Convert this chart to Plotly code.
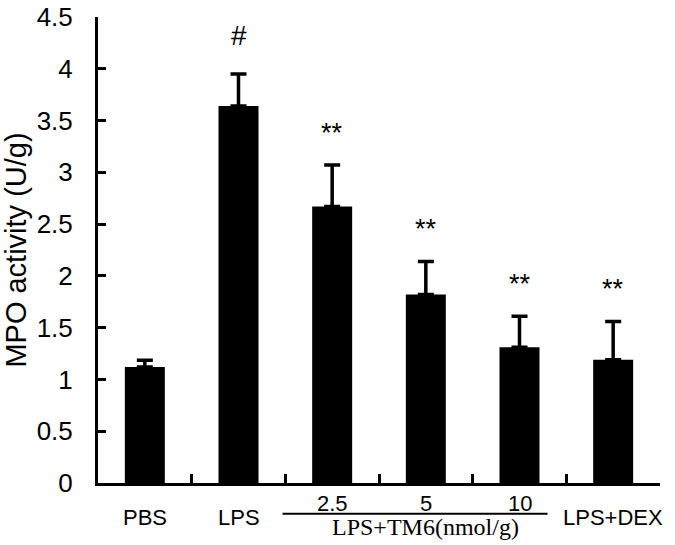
import plotly.graph_objects as go

categories = ["PBS", "LPS", "2.5", "5", "10", "LPS+DEX"]
tick_labels = ["PBS", "LPS", "2.5", "5", "10", "LPS+DEX"]
mpo_mean = [1.12, 3.64, 2.67, 1.82, 1.31, 1.19]
mpo_sd = [0.065, 0.31, 0.40, 0.32, 0.30, 0.37]
sig_marks = ["", "#", "**", "**", "**", "**"]
group_label = "LPS+TM6(nmol/g)"
y_title = "MPO activity (U/g)"

SANS = "Liberation Sans, Arial, sans-serif"
SERIF = "Liberation Serif, Times New Roman, serif"

idx = list(range(len(categories)))

fig = go.Figure()
fig.add_trace(go.Bar(
    x=idx,
    y=mpo_mean,
    marker=dict(color="black", line=dict(width=0)),
    error_y=dict(type="data", symmetric=False, array=mpo_sd,
                 arrayminus=[0] * len(mpo_sd),
                 color="black", thickness=3.5, width=8),
    showlegend=False,
    hoverinfo="skip",
))

annotations = []
for i, m, s, mark in zip(idx, mpo_mean, mpo_sd, sig_marks):
    if mark:
        annotations.append(dict(
            x=i, y=m + s, xref="x", yref="y", text=mark, showarrow=False,
            yanchor="middle", yshift=38 if mark == "#" else 32,
            font=dict(family=SANS, size=28 if mark == "#" else 27, color="black"),
        ))

upper = {"2.5", "5", "10"}
for i, t in zip(idx, tick_labels):
    annotations.append(dict(
        x=i, y=-0.0447 if t in upper else -0.073, xref="x", yref="paper",
        text=t, showarrow=False, yanchor="middle",
        font=dict(family=SANS, size=22, color="black"),
    ))

annotations.append(dict(
    x=3, y=-0.095, xref="x", yref="paper", text=group_label, showarrow=False,
    yanchor="middle", font=dict(family=SERIF, size=24, color="black"),
))

fig.update_layout(
    width=675, height=545,
    margin=dict(l=98, r=15, t=17, b=62),
    paper_bgcolor="white", plot_bgcolor="white",
    bargap=0.573,
    annotations=annotations,
    shapes=[dict(type="line", xref="x", yref="paper",
                 x0=1.47, x1=4.3, y0=-0.066, y1=-0.066,
                 line=dict(color="black", width=2))],
    xaxis=dict(
        range=[-0.5, len(categories) - 0.5], automargin=False,
        tickmode="array", tickvals=[i - 0.5 for i in idx] + [len(idx) - 0.5],
        showticklabels=False,
        ticks="inside", ticklen=9, tickwidth=3, tickcolor="black",
        showline=True, linewidth=3, linecolor="black", showgrid=False,
        zeroline=False,
    ),
    yaxis=dict(
        range=[0, 4.5], dtick=0.5, tick0=0, automargin=False,
        ticks="inside", ticklen=8, tickwidth=3, tickcolor="black",
        showline=True, linewidth=3, linecolor="black", showgrid=False,
        zeroline=False, ticklabelstandoff=17,
        tickfont=dict(family=SANS, size=26, color="black"),
        title=dict(text=y_title, standoff=10,
                   font=dict(family=SANS, size=29, color="black")),
    ),
)

fig.write_html("out.html", config={"displayModeBar": False},
               post_script="document.body.style.margin='0';")
